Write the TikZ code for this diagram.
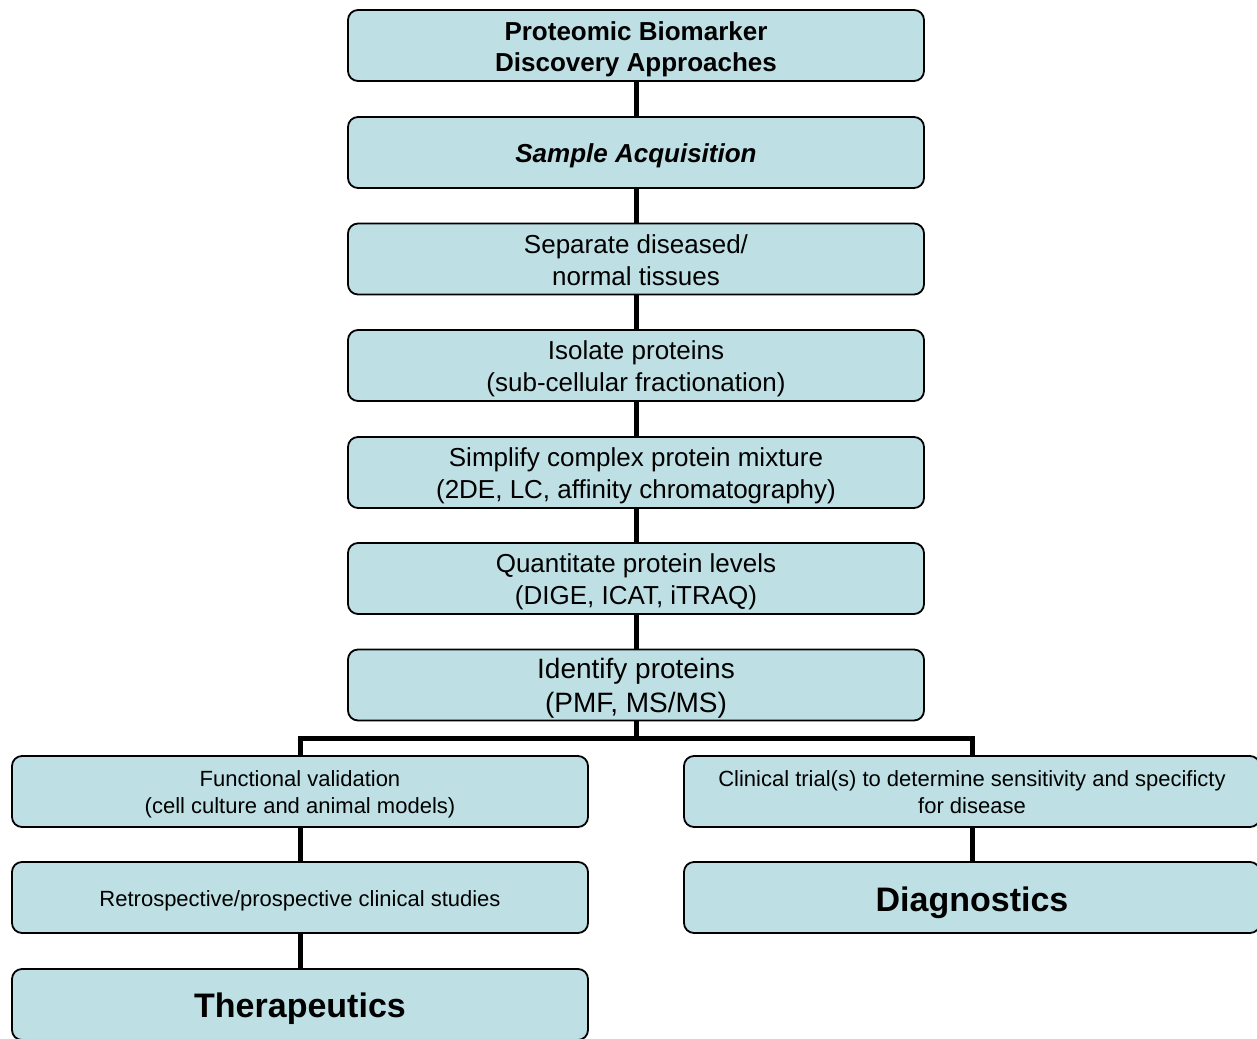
\documentclass[tikz,border=0pt]{standalone}
\usepackage{fontspec}
\setmainfont{Liberation Sans}
\definecolor{boxfill}{RGB}{190,224,228}
\begin{document}
\begin{tikzpicture}[x=1pt,y=-1pt,
  box/.style={draw=black, line width=1.8pt, fill=boxfill, rounded corners=10pt,
    minimum width=576pt, minimum height=71pt, inner sep=0pt},
  txt/.style={inner sep=0pt, align=center},
  titlefont/.style={font=\fontsize{26}{31}\selectfont\bfseries},
  midfont/.style={font=\fontsize{26}{32}\selectfont},
  smallfont/.style={font=\fontsize{22}{27}\selectfont},
  bigfont/.style={font=\fontsize{34}{40}\selectfont\bfseries},
  conn/.style={draw=black, line width=5pt, line join=miter}]
\useasboundingbox (0,0) rectangle (1257,1038);
\coordinate (jl) at (300,738);
\coordinate (jr) at (972,738);
% boxes
\node[box] (b1) at (636,45.5) {};
\node[box] (b2) at (636,152.5) {};
\node[box] (b3) at (636,259) {};
\node[box] (b4) at (636,365.5) {};
\node[box] (b5) at (636,472.5) {};
\node[box] (b6) at (636,578.5) {};
\node[box] (b7) at (636,685) {};
\node[box] (l1) at (300,791.5) {};
\node[box] (l2) at (300,897.5) {};
\node[box] (l3) at (300,1004.5) {};
\node[box] (r1) at (972,791.5) {};
\node[box] (r2) at (972,897.5) {};
% texts
\node[txt, titlefont, yshift=-4pt] (t1) at (b1) {Proteomic Biomarker\\Discovery Approaches};
\node[txt, font=\fontsize{26}{31}\selectfont\bfseries\itshape, yshift=-3pt] (t2) at (b2) {Sample Acquisition};
\node[txt, midfont, yshift=-1pt] (t3) at (b3) {Separate diseased/\\normal tissues};
\node[txt, midfont, yshift=-3pt] (t4) at (b4) {Isolate proteins\\(sub-cellular fractionation)};
\node[txt, midfont, yshift=-3pt] (t5) at (b5) {Simplify complex protein mixture\\(2DE, LC, affinity chromatography)};
\node[txt, midfont, yshift=-3pt] (t6) at (b6) {Quantitate protein levels\\(DIGE, ICAT, iTRAQ)};
\node[txt, font=\fontsize{28}{34}\selectfont, yshift=-3pt] (t7) at (b7) {Identify proteins\\(PMF, MS/MS)};
\node[txt, smallfont, yshift=-3pt] (tl1) at (l1) {Functional validation\\(cell culture and animal models)};
\node[txt, smallfont, yshift=-3pt] (tl2) at (l2) {Retrospective/prospective clinical studies};
\node[txt, bigfont, yshift=-4pt] (tl3) at (l3) {Therapeutics};
\node[txt, smallfont, yshift=-1pt] (tr1) at (r1) {Clinical trial(s) to determine sensitivity and specificty\\for disease};
\node[txt, bigfont, yshift=-5pt] (tr2) at (r2) {Diagnostics};
% connectors
\draw[conn] (b1) -- (b2);
\draw[conn] (b2) -- (b3);
\draw[conn] (b3) -- (b4);
\draw[conn] (b4) -- (b5);
\draw[conn] (b5) -- (b6);
\draw[conn] (b6) -- (b7);
\draw[conn] (b7.south) -- (b7.south |- jl);
\draw[conn] (l1.north) -- (l1.north |- jl) -- (r1.north |- jr) -- (r1.north);
\draw[conn] (l1) -- (l2);
\draw[conn] (l2) -- (l3);
\draw[conn] (r1) -- (r2);
\end{tikzpicture}
\end{document}
